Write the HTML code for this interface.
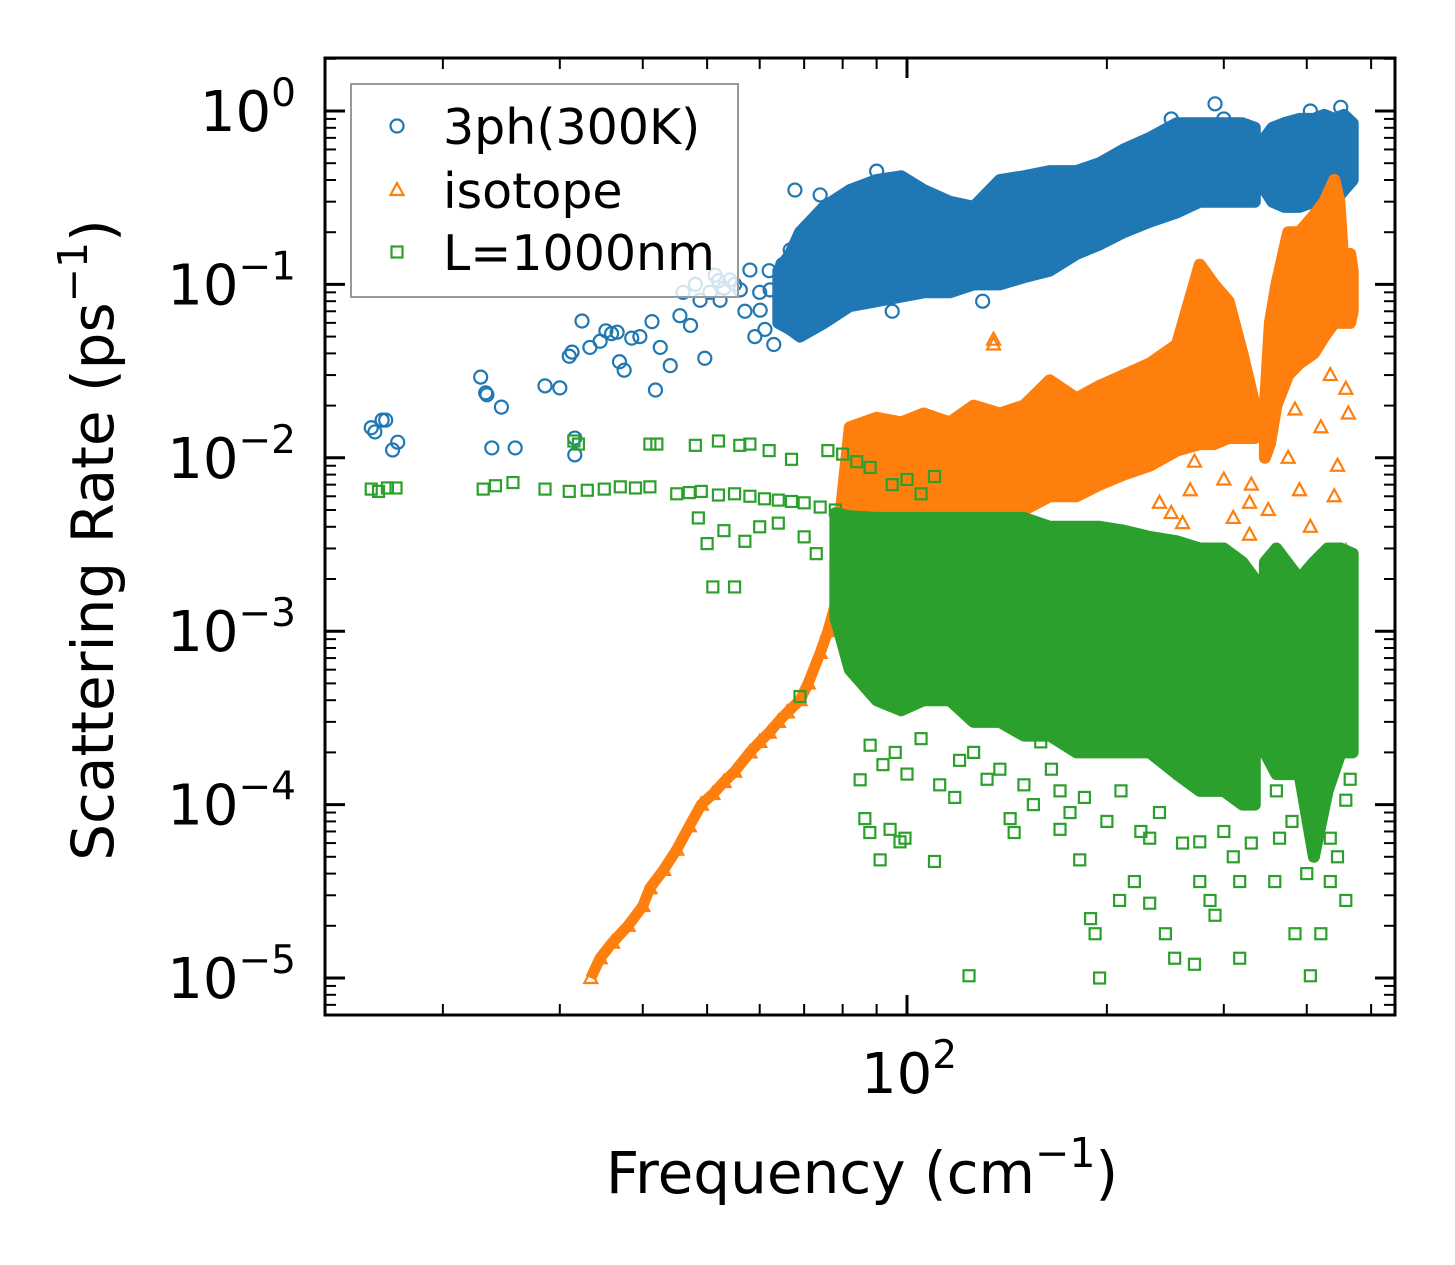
<!DOCTYPE html>
<html><head><meta charset="utf-8">
<style>
html,body{margin:0;padding:0;background:#fff;}
svg{display:block;font-family:"DejaVu Sans","Liberation Sans",sans-serif;}
</style></head>
<body>
<svg id="chart" width="1455" height="1265" viewBox="0 0 1455 1265">
<rect x="0" y="0" width="1455" height="1265" fill="#fff"/>
<g id="plot"></g>
<g id="axes"></g>
</svg>
<script>
// ---- data ----
const blueBandA = [[64,0.06,0.12],[66.7,0.055,0.15],[69,0.05,0.2],[75,0.06,0.28],[82,0.075,0.35],[90,0.08,0.4],[98,0.085,0.42],[106,0.09,0.35],[116,0.09,0.3],[126,0.1,0.28],[138,0.1,0.4],[150,0.11,0.42],[164,0.12,0.45],[180,0.15,0.45],[195,0.17,0.5],[212,0.2,0.6],[232,0.23,0.7],[255,0.26,0.85],[276,0.3,0.85],[300,0.3,0.85],[320,0.3,0.85],[334,0.3,0.8]];
const blueBandB = [[346,0.35,0.7],[355,0.3,0.8],[370,0.28,0.85],[390,0.28,0.9],[410,0.3,0.9],[425,0.22,0.95],[440,0.3,0.9],[455,0.35,0.95],[469,0.4,0.85]];
const bluePoints = [[15.6,0.0149],[15.8,0.0141],[16.2,0.0165],[16.4,0.0165],[16.8,0.0111],[17.1,0.0123],[22.8,0.0292],[23.2,0.0237],[23.3,0.0231],[23.7,0.0114],[24.5,0.0196],[25.7,0.0114],[28.5,0.026],[30.0,0.0253],[31.3,0.0407],[31.6,0.013],[31.6,0.0104],[31.0,0.0385],[32.4,0.0615],[33.3,0.0433],[34.5,0.047],[35.2,0.054],[35.9,0.052],[36.6,0.053],[36.9,0.0358],[37.5,0.032],[38.5,0.049],[39.6,0.05],[41.3,0.061],[41.8,0.0246],[42.5,0.0433],[44.0,0.034],[45.5,0.066],[47.2,0.058],[48.8,0.081],[49.6,0.0375],[50.5,0.09],[51.4,0.113],[52.3,0.081],[54.1,0.106],[56.1,0.093],[58.0,0.121],[60.1,0.071],[61.1,0.055],[62.2,0.093],[64.4,0.081],[66.7,0.158],[67.8,0.35],[74.0,0.328],[79.2,0.307],[55,0.1],[57,0.07],[59,0.05],[63,0.045],[46,0.09],[291,1.1],[405,1.0],[450,1.05],[300,0.9],[250,0.9],[90,0.45],[130,0.08],[95,0.07],[48,0.1],[52,0.105],[53,0.095],[60,0.09],[62,0.12],[65,0.13],[70,0.18],[72,0.22]];
const orangeLine = [[33.4,1.0e-5],[34.5,1.3e-5],[36,1.6e-5],[38,2.0e-5],[40,2.6e-5],[41,3.3e-5],[43,4.2e-5],[45,5.5e-5],[47,7.5e-5],[49,1.0e-4],[51,1.15e-4],[53,1.35e-4],[55,1.55e-4],[58,2.0e-4],[60,2.3e-4],[62,2.6e-4],[64,3.0e-4],[66,3.4e-4],[69,4.0e-4],[71,5.0e-4],[74,7.5e-4],[76,1.0e-3],[79,1.7e-3],[81,2.4e-3]];
const orangeBandA = [[78,0.0012,0.0025],[82,0.0015,0.015],[90,0.002,0.017],[98,0.004,0.016],[106,0.004,0.018],[116,0.004,0.016],[126,0.004,0.02],[138,0.005,0.018],[150,0.005,0.02],[164,0.006,0.028],[180,0.006,0.022],[195,0.007,0.026],[212,0.008,0.03],[232,0.009,0.035],[255,0.011,0.045],[276,0.012,0.13],[290,0.012,0.1],[305,0.013,0.08],[320,0.013,0.04],[334,0.013,0.02]];
const orangeBandB = [[346,0.01,0.02],[352,0.012,0.06],[360,0.02,0.1],[375,0.03,0.2],[390,0.035,0.2],[410,0.04,0.25],[425,0.05,0.3],[440,0.06,0.4],[448,0.06,0.3],[455,0.06,0.12],[465,0.06,0.15],[469,0.07,0.12]];
const orangePoints = [[135,0.048],[135,0.045],[195,0.019],[267,0.0065],[271,0.0095],[328,0.0036],[328,0.0055],[330,0.007],[384,0.019],[390,0.0065],[420,0.015],[434,0.03],[458,0.0029],[458,0.025],[462,0.018],[405,0.004],[350,0.005],[440,0.006],[445,0.009],[375,0.01],[300,0.0075],[310,0.0045],[240,0.0055],[250,0.0048],[260,0.0042]];
const greenFlat = [[15.6,0.0066],[16.0,0.0064],[16.5,0.0067],[17.0,0.0067],[23,0.0066],[24,0.0069],[25.5,0.0072],[28.5,0.0066],[31,0.0064],[33,0.0065],[35,0.0066],[37,0.0068],[39,0.0067],[41,0.0068],[45,0.0062],[47,0.0063],[49,0.0064],[52,0.0061],[55,0.0062],[58,0.006],[61,0.0058],[64,0.0057],[67,0.0056],[70,0.0055],[74,0.0052],[78,0.005],[31.5,0.0125],[32,0.012],[41,0.012],[42,0.012],[48,0.0118],[52,0.0125],[56,0.0118],[58,0.012],[62,0.011],[67,0.0098],[48.5,0.0045],[50,0.0032],[51,0.0018],[53,0.0038],[57,0.0033],[60,0.004],[64,0.0042],[70,0.0035],[73,0.0028],[76,0.011],[80,0.0105],[84,0.0095],[88,0.0088],[95,0.007],[100,0.0075],[110,0.0078],[105,0.0062]];
const greenBandA = [[78,0.0012,0.0048],[82,0.0006,0.0046],[90,0.0004,0.0045],[98,0.00035,0.0045],[106,0.0004,0.0045],[116,0.0004,0.0045],[126,0.0003,0.0045],[138,0.0003,0.0045],[150,0.00025,0.0045],[164,0.00025,0.004],[180,0.0002,0.004],[195,0.0002,0.004],[212,0.0002,0.0038],[232,0.0002,0.0035],[255,0.00015,0.0033],[276,0.00012,0.003],[300,0.00012,0.003],[320,0.0001,0.0025],[334,0.0001,0.002]];
const greenBandB = [[346,0.0002,0.0025],[360,0.00015,0.003],[390,0.00015,0.002],[410,0.00005,0.0025],[430,0.00012,0.003],[450,0.0002,0.003],[469,0.0002,0.0028]];
const greenPoints = [[85,1.39e-4],[86.4,8.3e-5],[87.9,6.9e-5],[91.1,4.8e-5],[94.3,7.2e-5],[97.6,6.1e-5],[99.3,6.4e-5],[110,4.7e-5],[120,1.8e-4],[138,1.6e-4],[143,8.3e-5],[145,6.9e-5],[159,2.3e-4],[170,1.2e-4],[182,4.8e-5],[189,2.2e-5],[192,1.8e-5],[195,1.0e-5],[209,2.8e-5],[220,3.6e-5],[232,2.7e-5],[245,1.8e-5],[253,1.3e-5],[271,1.2e-5],[276,3.6e-5],[286,2.8e-5],[291,2.3e-5],[317,1.3e-5],[358,3.6e-5],[364,6.4e-5],[384,1.8e-5],[405,1.03e-5],[420,1.8e-5],[434,3.6e-5],[458,1.06e-4],[458,2.8e-5],[124,1.03e-5],[170,7.2e-5],[232,6.4e-5],[276,6.1e-5],[317,3.6e-5],[434,6.4e-5],[69,4.2e-4],[55,1.8e-3],[88,2.2e-4],[92,1.7e-4],[96,2.0e-4],[100,1.5e-4],[105,2.4e-4],[112,1.3e-4],[118,1.1e-4],[126,2.0e-4],[132,1.4e-4],[150,1.3e-4],[155,1.0e-4],[165,1.6e-4],[176,9e-5],[185,1.1e-4],[200,8e-5],[210,1.2e-4],[225,7e-5],[240,9e-5],[260,6e-5],[300,7e-5],[310,5e-5],[330,6e-5],[360,1.2e-4],[380,8e-5],[400,4e-5],[445,5e-5],[465,1.4e-4]];
const yTickExps = [0,-1,-2,-3,-4,-5];
const xTickLabels = ["10","2"];

// ---- scales ----
const X = f => 907 + 664*Math.log10(f/100);
const Y = r => 111 - 173.4*Math.log10(r);
const NS='http://www.w3.org/2000/svg';
const plot=document.getElementById('plot'), axes=document.getElementById('axes');
function mk(tag, parent){const e=document.createElementNS(NS,tag);parent.appendChild(e);return e;}
const C={blue:'#1f77b4',orange:'#ff7f0e',green:'#2ca02c'};

function band(arr,color,name){
  const top=arr.map(d=>X(d[0]).toFixed(1)+','+Y(d[2]).toFixed(1));
  const bot=arr.slice().reverse().map(d=>X(d[0]).toFixed(1)+','+Y(d[1]).toFixed(1));
  const p=mk('polygon',plot);
  p.setAttribute('points',top.concat(bot).join(' '));
  p.setAttribute('fill',color);p.setAttribute('stroke',color);p.setAttribute('stroke-width','12');p.setAttribute('stroke-linejoin','round');
  
  
}
function marker(kind,x,y,color,parent,name){
  let e;
  if(kind==='c'){e=mk('circle',parent);e.setAttribute('cx',x);e.setAttribute('cy',y);e.setAttribute('r',6.5);}
  else if(kind==='s'){e=mk('rect',parent);e.setAttribute('x',x-5.5);e.setAttribute('y',y-5.5);e.setAttribute('width',11);e.setAttribute('height',11);}
  else {e=mk('polygon',parent);e.setAttribute('points',`${x},${y-7} ${x-6.5},${y+5} ${x+6.5},${y+5}`);}
  e.setAttribute('fill','none');e.setAttribute('stroke',color);e.setAttribute('stroke-width','2.2');
  
  
  return e;
}
function pts(arr,kind,color,name){arr.forEach(d=>marker(kind,X(d[0]),Y(d[1]),color,plot,name));}

// blue
band(blueBandA,C.blue,'3ph-band-a');band(blueBandB,C.blue,'3ph-band-b');
pts(bluePoints,'c',C.blue,'3ph-point');
// orange
band(orangeBandA,C.orange,'isotope-band-a');band(orangeBandB,C.orange,'isotope-band-b');
const ol=mk('polyline',plot);
ol.setAttribute('points',orangeLine.map(d=>X(d[0]).toFixed(1)+','+Y(d[1]).toFixed(1)).join(' '));
ol.setAttribute('fill','none');ol.setAttribute('stroke',C.orange);ol.setAttribute('stroke-width','11');


pts(orangeLine,'t',C.orange,'isotope-point');
pts(orangePoints,'t',C.orange,'isotope-point');
// green
band(greenBandA,C.green,'l1000nm-band-a');band(greenBandB,C.green,'l1000nm-band-b');
pts(greenFlat,'s',C.green,'l1000nm-point');
pts(greenPoints,'s',C.green,'l1000nm-point');

// mask outside plot
[[0,0,1455,58],[0,1015,1455,250],[0,0,325,1265],[1395,0,60,1265]].forEach(r=>{
  const e=mk('rect',axes);e.setAttribute('x',r[0]);e.setAttribute('y',r[1]);e.setAttribute('width',r[2]);e.setAttribute('height',r[3]);e.setAttribute('fill','#fff');
  
  
});

// ticks
function line(x1,y1,x2,y2,w,name){const l=mk('line',axes);l.setAttribute('x1',x1);l.setAttribute('y1',y1);l.setAttribute('x2',x2);l.setAttribute('y2',y2);l.setAttribute('stroke','#000');l.setAttribute('stroke-width',w);
  
  }
for(let e=1;e>=-6;e--){
  for(let m=1;m<10;m++){
    const y=Y(m*Math.pow(10,e)); if(y<58||y>1015) continue;
    const L=m===1?20:11;
    line(325,y,325+L,y,m===1?3:2,'y-tick');line(1395,y,1395-L,y,m===1?3:2,'y-tick');
  }
}
for(let e=1;e<=2;e++){
  for(let m=1;m<10;m++){
    const x=X(m*Math.pow(10,e)); if(x<325||x>1395) continue;
    const L=m===1?20:11;
    line(x,1015,x,1015-L,m===1?3:2,'x-tick');line(x,58,x,58+L,m===1?3:2,'x-tick');
  }
}
const fr=mk('rect',axes);fr.setAttribute('x',325);fr.setAttribute('y',58);fr.setAttribute('width',1070);fr.setAttribute('height',957);fr.setAttribute('fill','none');fr.setAttribute('stroke','#000');fr.setAttribute('stroke-width','3');



// tick labels
yTickExps.forEach(e=>{
  const t=mk('text',axes);t.setAttribute('x',296);t.setAttribute('y',Y(Math.pow(10,e))+20);t.setAttribute('text-anchor','end');t.setAttribute('font-size','56');
  
  
  t.innerHTML='10<tspan dy="-25" font-size="39">'+(e<0?'\u2212'+(-e):e)+'</tspan>';
});
const xt=mk('text',axes);xt.setAttribute('x',X(100)+2);xt.setAttribute('y',1093);xt.setAttribute('text-anchor','middle');xt.setAttribute('font-size','56');


xt.innerHTML=xTickLabels[0]+'<tspan dy="-25" font-size="39">'+xTickLabels[1]+'</tspan>';

// axis titles
const xa=mk('text',axes);xa.setAttribute('x',862);xa.setAttribute('y',1193);xa.setAttribute('text-anchor','middle');xa.setAttribute('font-size','58');


xa.innerHTML='Frequency (cm<tspan dy="-26" font-size="41">\u22121</tspan><tspan dy="26">)</tspan>';
const ya=mk('text',axes);ya.setAttribute('transform','translate(113,540) rotate(-90)');ya.setAttribute('text-anchor','middle');ya.setAttribute('font-size','58');


ya.innerHTML='Scattering Rate (ps<tspan dy="-26" font-size="41">\u22121</tspan><tspan dy="26">)</tspan>';

// legend
const lg=mk('g',axes);


const lb=mk('rect',lg);lb.setAttribute('x',351);lb.setAttribute('y',84);lb.setAttribute('width',387);lb.setAttribute('height',213);lb.setAttribute('fill','rgba(255,255,255,0.8)');lb.setAttribute('stroke','#999');lb.setAttribute('stroke-width','2');


const entries=[['c',C.blue,'3ph(300K)',126],['t',C.orange,'isotope',190],['s',C.green,'L=1000nm',252]];
entries.forEach(en=>{
  const g=mk('g',lg);
  
  
  marker(en[0],397,en[3],en[1],g,'legend-marker');
  const t=mk('text',g);t.setAttribute('x',443);t.setAttribute('y',en[3]+18);t.setAttribute('font-size','49');t.textContent=en[2];
  
  
});
</script>
</body></html>
